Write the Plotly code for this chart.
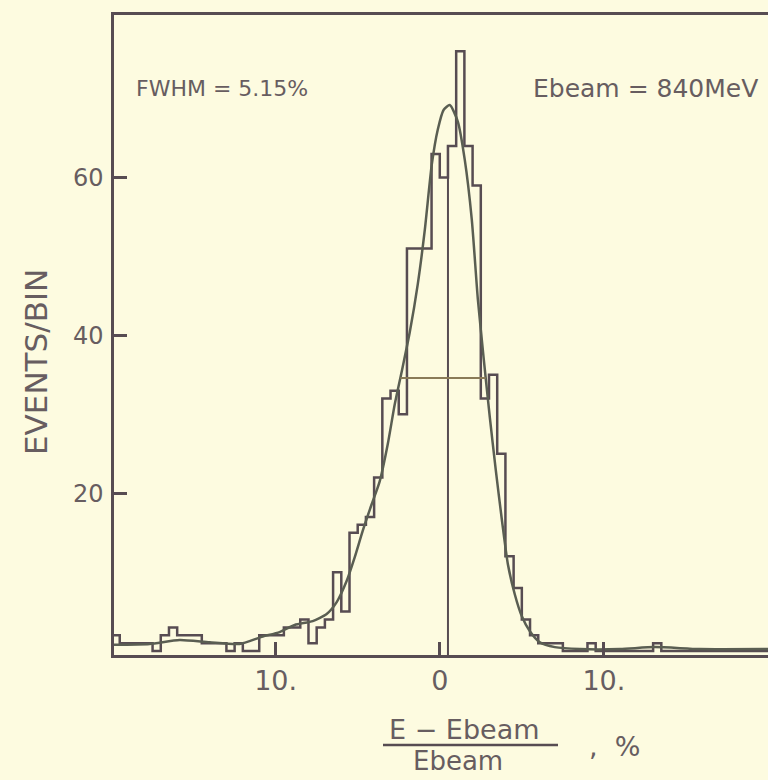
import numpy as np
import plotly.graph_objects as go

# Energy resolution histogram: (E - Ebeam)/Ebeam in %, 0.5 % bins from -20 to +20
bin_width = 0.5
bin_edges = np.arange(-20.0, 20.0 + bin_width / 2, bin_width)

events_per_bin = [
    2, 1, 1, 1, 1, 0, 2, 3, 2, 2,
    2, 1, 1, 1, 0, 1, 0, 0, 2, 2,
    2, 3, 3, 4, 1, 3, 4, 10, 5, 15,
    16, 17, 22, 32, 33, 30, 51, 51, 51, 63,
    60, 64, 76, 64, 59, 32, 35, 25, 12, 8,
    4, 2, 1, 1, 1, 0, 0, 0, 1, 0,
    0, 0, 0, 0, 0, 0, 1, 0, 0, 0,
    0, 0, 0, 0, 0, 0, 0, 0, 0, 0,
]

# Fitted line shape (sampled points along the drawn curve)
fit_x = [-19.88, -17.68, -15.85, -14.02, -12.2, -10.85, -9.76, -8.84, -7.74, -6.89,
         -6.28, -5.67, -5.18, -4.70, -4.15, -3.66, -3.17, -2.74, -2.32, -1.83,
         -1.34, -0.91, -0.49, -0.12, 0.24, 0.61, 1.10, 1.52, 1.95, 2.32,
         2.68, 3.05, 3.41, 3.78, 4.15, 4.57, 5.0, 5.49, 6.1, 7.01,
         8.54, 10.98, 13.1, 15.85, 20.0]
fit_y = [0.8, 0.9, 1.4, 1.1, 0.9, 1.8, 2.4, 3.3, 3.8, 4.7,
         6.2, 8.9, 11.9, 15.2, 18.6, 21.5, 26.2, 31.3, 35.4, 40.4,
         46.5, 53.4, 61.6, 66.1, 68.6, 69.2, 67.1, 62.3, 54.7, 44.6,
         37.0, 29.6, 23.0, 16.7, 11.0, 7.2, 4.4, 2.5, 1.1, 0.5,
         0.25, 0.25, 0.5, 0.25, 0.25]

# Half-maximum level and its crossing points, peak marker position
fwhm_level = 34.6
fwhm_x = [-2.4, 2.8]
peak_marker_x = 0.5

x_ticks = [-10, 0, 10]
x_tick_text = ["10.", "0", "10."]
y_ticks = [20, 40, 60]

x_range = [-19.85, 20.0]
y_range = [-0.5, 80.6]

paper = "#fdfbe0"
ink = "#574c52"
fit_ink = "#5a5e52"
text_ink = "#675d60"
font_family = "DejaVu Sans"

W, H = 768, 780
ML, MR, MT, MB = 114, 0, 15, 125


def px(x):
    return (x - ML) / (W - ML - MR)


def py(y):
    return (H - MB - y) / (H - MT - MB)


fig = go.Figure()

# histogram as a step outline
fig.add_trace(go.Scatter(
    x=list(bin_edges),
    y=events_per_bin + [events_per_bin[-1]],
    mode="lines", line=dict(shape="hv", color=ink, width=2.5),
    hoverinfo="skip", showlegend=False,
))

# fitted curve
fig.add_trace(go.Scatter(
    x=fit_x, y=fit_y, mode="lines",
    line=dict(shape="spline", smoothing=0.6, color=fit_ink, width=2.5),
    hoverinfo="skip", showlegend=False,
))

# vertical marker from the axis up to the histogram
peak_bin = int(np.searchsorted(bin_edges, peak_marker_x, side="right") - 1)
fig.add_trace(go.Scatter(
    x=[peak_marker_x, peak_marker_x], y=[y_range[0], events_per_bin[peak_bin]],
    mode="lines", line=dict(color=ink, width=2),
    hoverinfo="skip", showlegend=False,
))

# full width at half maximum
fig.add_trace(go.Scatter(
    x=fwhm_x, y=[fwhm_level, fwhm_level], mode="lines",
    line=dict(color="#8a7b58", width=2),
    hoverinfo="skip", showlegend=False,
))

fig.update_xaxes(
    range=x_range, tickvals=x_ticks, ticktext=x_tick_text,
    ticks="inside", ticklen=13, tickwidth=2.5, tickcolor=ink,
    showline=True, linecolor=ink, linewidth=2.5, mirror=True,
    showgrid=False, zeroline=False,
    tickfont=dict(family=font_family, size=27, color=text_ink),
)
fig.update_yaxes(
    range=y_range, tickvals=y_ticks,
    ticks="inside", ticklen=13, tickwidth=2.5, tickcolor=ink,
    showline=True, linecolor=ink, linewidth=2.5, mirror=False,
    showgrid=False, zeroline=False, ticklabelstandoff=3,
    tickfont=dict(family=font_family, size=24, color=text_ink),
)

annotations = [
    dict(text="FWHM = 5.15%", x=px(134), y=py(89), xanchor="left", yanchor="middle",
         font=dict(size=22)),
    dict(text="Ebeam = 840MeV", x=px(645), y=py(89), xanchor="center", yanchor="middle",
         font=dict(size=25)),
    dict(text="EVENTS/BIN", x=px(36), y=py(362), xanchor="center", yanchor="middle",
         textangle=-90, font=dict(size=31)),
    dict(text="E \u2212 Ebeam", x=px(464), y=py(729), xanchor="center", yanchor="middle",
         font=dict(size=27)),
    dict(text="Ebeam", x=px(458), y=py(761), xanchor="center", yanchor="middle",
         font=dict(size=26)),
    dict(text=",  %", x=px(614), y=py(746), xanchor="center", yanchor="middle",
         font=dict(size=27)),
]
for a in annotations:
    a.update(xref="paper", yref="paper", showarrow=False)
    a["font"].update(family=font_family, color=text_ink)

fig.update_layout(
    width=W, height=H,
    margin=dict(l=ML, r=MR, t=MT, b=MB),
    paper_bgcolor=paper, plot_bgcolor=paper,
    annotations=annotations,
    shapes=[dict(type="line", xref="paper", yref="paper",
                 x0=px(383), x1=px(558), y0=py(745), y1=py(745),
                 line=dict(color=ink, width=2.5))],
)

fig.write_html("out.html")
